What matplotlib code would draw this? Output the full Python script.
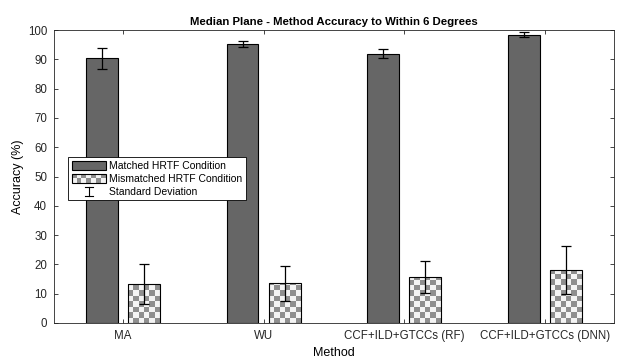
import numpy as np
import matplotlib
matplotlib.use("Agg")
import matplotlib.pyplot as plt
from matplotlib.patches import Rectangle
from matplotlib.lines import Line2D
from matplotlib.legend_handler import HandlerBase

methods = ["MA", "WU", "CCF+ILD+GTCCs (RF)", "CCF+ILD+GTCCs (DNN)"]
matched = [90.4, 95.3, 92.0, 98.5]
matched_sd = [3.6, 1.0, 1.5, 0.8]
mismatched = [13.3, 13.5, 15.7, 18.0]
mismatched_sd = [6.7, 6.0, 5.5, 8.2]

plt.rcParams["font.family"] = ["Liberation Sans", "DejaVu Sans"]

DARK = "#666666"
CHECK = "#8f8f8f"
LIGHT = "#f4f4f4"


def checker(ax, rect, cell_x, cell_y):
    # fill a bar with a grey/white checkerboard, clipped to the bar
    x0, y0 = rect.get_x(), rect.get_y()
    w, h = rect.get_width(), rect.get_height()
    nx = int(np.ceil(w / cell_x))
    ny = int(np.ceil(h / cell_y))
    grid = (np.add.outer(np.arange(ny), np.arange(nx)) % 2).astype(float)
    img = ax.imshow(grid, cmap=matplotlib.colors.ListedColormap([LIGHT, CHECK]),
                    extent=(x0, x0 + nx * cell_x, y0, y0 + ny * cell_y),
                    origin="lower", interpolation="nearest", aspect="auto",
                    zorder=2)
    img.set_clip_path(rect)


class CheckerHandler(HandlerBase):
    def create_artists(self, legend, orig_handle, xdescent, ydescent,
                       width, height, fontsize, trans):
        arts = []
        n_x, n_y = 7, 2
        cw, ch = width / n_x, height / n_y
        for i in range(n_x):
            for j in range(n_y):
                c = CHECK if (i + j) % 2 else LIGHT
                arts.append(Rectangle((-xdescent + i * cw, -ydescent + j * ch), cw, ch,
                                      facecolor=c, edgecolor="none", transform=trans))
        arts.append(Rectangle((-xdescent, -ydescent), width, height, facecolor="none",
                              edgecolor="black", lw=0.8, transform=trans))
        return arts


class ErrHandler(HandlerBase):
    def create_artists(self, legend, orig_handle, xdescent, ydescent,
                       width, height, fontsize, trans):
        cx = -xdescent + width / 2
        y0, y1 = -ydescent, -ydescent + height
        arts = [Line2D([cx, cx], [y0, y1], color="black", lw=0.8, transform=trans),
                Line2D([cx - 3, cx + 3], [y0, y0], color="black", lw=0.8, transform=trans),
                Line2D([cx - 3, cx + 3], [y1, y1], color="black", lw=0.8, transform=trans)]
        return arts


fig = plt.figure(figsize=(6.18, 3.58), dpi=100)
ax = fig.add_axes([0.0874, 0.0978, 0.906, 0.818])

x = np.arange(1, len(methods) + 1)
bw = 0.227
off = 0.15

b1 = ax.bar(x - off, matched, bw, color=DARK, edgecolor="black", lw=0.8, zorder=2)
b2 = ax.bar(x + off, mismatched, bw, color="none", edgecolor="black", lw=0.8, zorder=3)
for r in b2:
    checker(ax, r, 0.038, 1.85)

ax.errorbar(x - off, matched, yerr=matched_sd, fmt="none", ecolor="black",
            elinewidth=0.9, capsize=3.5, capthick=0.9, zorder=4)
ax.errorbar(x + off, mismatched, yerr=mismatched_sd, fmt="none", ecolor="black",
            elinewidth=0.9, capsize=3.5, capthick=0.9, zorder=4)

ax.set_xlim(0.51, 4.49)
ax.set_ylim(0, 100)
ax.set_yticks(np.arange(0, 101, 10))
ax.set_xticks(x)
ax.set_xticklabels(methods)
ax.tick_params(direction="in", top=True, right=True, labelsize=8.3,
               length=3, width=0.6, colors="#262626", pad=5)
for s in ax.spines.values():
    s.set_linewidth(0.6)
    s.set_color("#262626")

ax.set_title("Median Plane - Method Accuracy to Within 6 Degrees",
             fontsize=8.2, fontweight="bold", pad=4)
ax.set_xlabel("Method", fontsize=9, labelpad=4)
ax.set_ylabel("Accuracy (%)", fontsize=9, labelpad=3)

h1 = Rectangle((0, 0), 1, 1, facecolor=DARK, edgecolor="black", lw=0.8)
h2 = Rectangle((0, 0), 1, 1)
h3 = Line2D([], [])
leg = ax.legend([h1, h2, h3],
                ["Matched HRTF Condition", "Mismatched HRTF Condition", "Standard Deviation"],
                handler_map={h2: CheckerHandler(), h3: ErrHandler()},
                loc="upper left", bbox_to_anchor=(0.025, 0.567), fontsize=7.5,
                handlelength=3.3, handleheight=0.95, handletextpad=0.3,
                labelspacing=0.28, borderpad=0.35, borderaxespad=0,
                fancybox=False, framealpha=1, edgecolor="black")
leg.get_frame().set_linewidth(0.6)

fig.savefig("out.png", dpi=100)
